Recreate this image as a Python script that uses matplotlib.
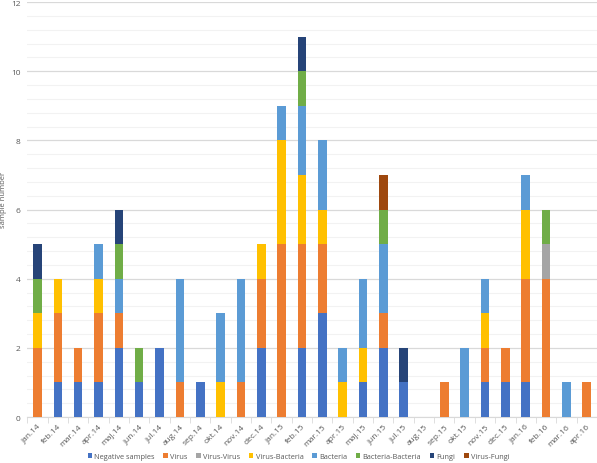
import numpy as np
import matplotlib.pyplot as plt
from matplotlib.ticker import MultipleLocator

months = ['jan.14', 'feb.14', 'mar.14', 'apr.14', 'maj.14', 'jun.14', 'jul.14', 'aug.14',
          'sep.14', 'okt.14', 'nov.14', 'dec.14', 'jan.15', 'feb.15', 'mar.15', 'apr.15',
          'maj.15', 'jun.15', 'jul.15', 'aug.15', 'sep.15', 'okt.15', 'nov.15', 'dec.15',
          'jan.16', 'feb.16', 'mar.16', 'apr.16']

negative = [0, 1, 1, 1, 2, 1, 2, 0, 1, 0, 0, 2, 0, 2, 3, 0, 1, 2, 1, 0, 0, 0, 1, 1, 1, 0, 0, 0]
virus = [2, 2, 1, 2, 1, 0, 0, 1, 0, 0, 1, 2, 5, 3, 2, 0, 0, 1, 0, 0, 1, 0, 1, 1, 3, 4, 0, 1]
virus_virus = [0, 0, 0, 0, 0, 0, 0, 0, 0, 0, 0, 0, 0, 0, 0, 0, 0, 0, 0, 0, 0, 0, 0, 0, 0, 1, 0, 0]
virus_bacteria = [1, 1, 0, 1, 0, 0, 0, 0, 0, 1, 0, 1, 3, 2, 1, 1, 1, 0, 0, 0, 0, 0, 1, 0, 2, 0, 0, 0]
bacteria = [0, 0, 0, 1, 1, 0, 0, 3, 0, 2, 3, 0, 1, 2, 2, 1, 2, 2, 0, 0, 0, 2, 1, 0, 1, 0, 1, 0]
bacteria_bacteria = [1, 0, 0, 0, 1, 1, 0, 0, 0, 0, 0, 0, 0, 1, 0, 0, 0, 1, 0, 0, 0, 0, 0, 0, 0, 1, 0, 0]
fungi = [1, 0, 0, 0, 1, 0, 0, 0, 0, 0, 0, 0, 0, 1, 0, 0, 0, 0, 1, 0, 0, 0, 0, 0, 0, 0, 0, 0]
virus_fungi = [0, 0, 0, 0, 0, 0, 0, 0, 0, 0, 0, 0, 0, 0, 0, 0, 0, 1, 0, 0, 0, 0, 0, 0, 0, 0, 0, 0]

series = [
    ('Negative samples', negative, '#4472C4'),
    ('Virus', virus, '#ED7D31'),
    ('Virus-Virus', virus_virus, '#A5A5A5'),
    ('Virus-Bacteria', virus_bacteria, '#FFC000'),
    ('Bacteria', bacteria, '#5B9BD5'),
    ('Bacteria-Bacteria', bacteria_bacteria, '#70AD47'),
    ('Fungi', fungi, '#264478'),
    ('Virus-Fungi', virus_fungi, '#9E480E'),
]

plt.rcParams['font.family'] = ['Open Sans', 'DejaVu Sans']
txt = '#595959'

fig = plt.figure(figsize=(5.97, 4.64), dpi=100)
ax = fig.add_axes([0.0458, 0.099, 0.954, 0.8945])

x = np.arange(len(months))
bottom = np.zeros(len(months))
for name, vals, col in series:
    ax.bar(x, vals, 0.42, bottom=bottom, color=col, label=name, zorder=3)
    bottom += np.array(vals)

ax.set_xlim(-0.5, len(months) - 0.5)
ax.set_ylim(0, 12)
ax.yaxis.set_major_locator(MultipleLocator(2))
ax.yaxis.set_minor_locator(MultipleLocator(0.4))
ax.grid(axis='y', which='major', color='#D9D9D9', lw=0.9, zorder=0)
ax.grid(axis='y', which='minor', color='#F2F2F2', lw=0.8, zorder=0)
ax.tick_params(axis='y', which='both', length=0, labelsize=6, labelcolor=txt, pad=5)

ax.set_xticks(x)
ax.set_xticklabels(months, rotation=45, ha='right', rotation_mode='anchor',
                   fontsize=6, color=txt)
ax.tick_params(axis='x', which='major', length=0, pad=4)
ax.set_xticks(np.arange(-0.5, len(months)), minor=True)
ax.tick_params(axis='x', which='minor', length=4, color='#D9D9D9')

for s in ['top', 'right', 'left']:
    ax.spines[s].set_visible(False)
ax.spines['bottom'].set_color('#D9D9D9')

ax.set_ylabel('sample number', fontsize=5.5, color=txt)
ax.yaxis.set_label_coords(-0.036, 0.525)

fig.legend(loc='lower center', bbox_to_anchor=(0.5, -0.008), ncol=8, frameon=False,
           fontsize=5.3, labelcolor=txt, handlelength=0.6, handleheight=0.6,
           handletextpad=0.3, columnspacing=1.2)

fig.savefig('out.png', dpi=100)
